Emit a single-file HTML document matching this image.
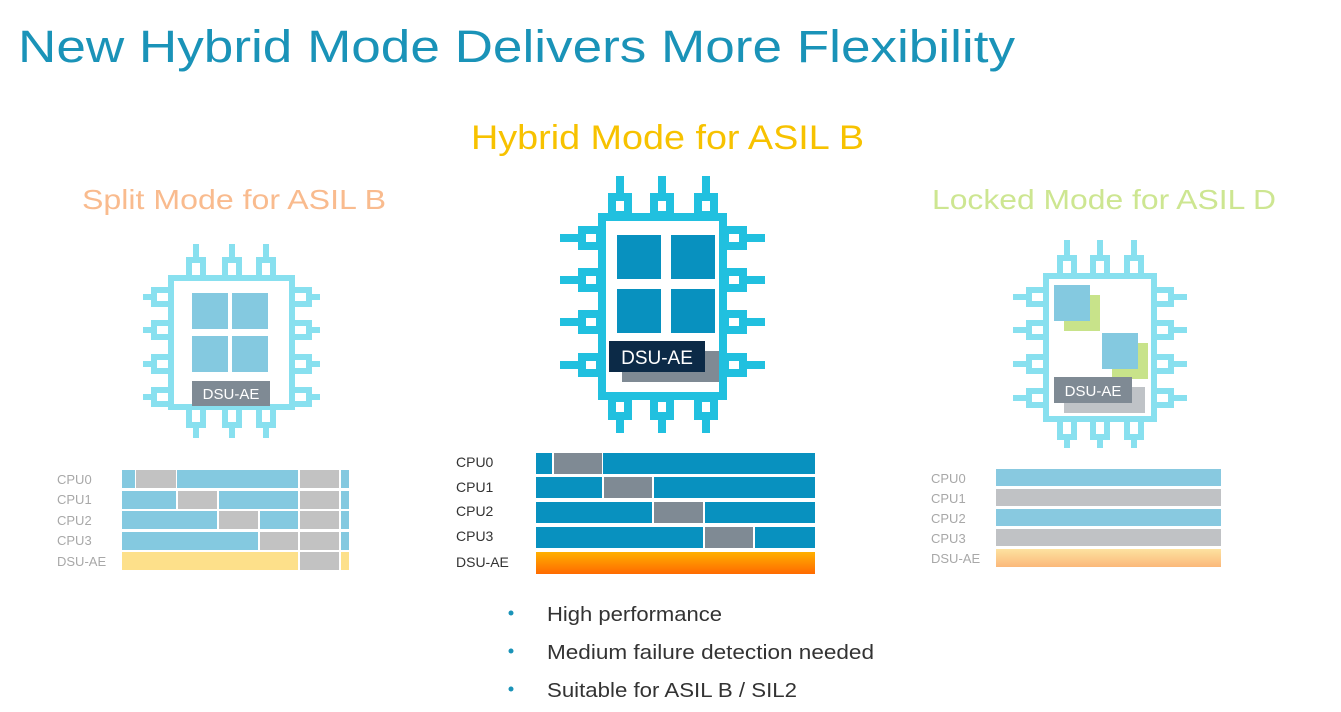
<!DOCTYPE html>
<html><head><meta charset="utf-8"><style>
html,body{margin:0;padding:0;background:#fff;}
svg{display:block;font-family:"Liberation Sans",sans-serif;}
</style></head><body>
<svg width="1341" height="712" viewBox="0 0 1341 712" xmlns="http://www.w3.org/2000/svg">
<defs>
<linearGradient id="og" x1="0" y1="0" x2="0" y2="1"><stop offset="0" stop-color="#ffb000"/><stop offset="1" stop-color="#ff6a00"/></linearGradient>
<linearGradient id="lg" x1="0" y1="0" x2="0" y2="1"><stop offset="0" stop-color="#fde2a0"/><stop offset="1" stop-color="#fbb87a"/></linearGradient>
</defs>
<text x="18" y="62" font-size="45" fill="#1a93b8" textLength="997" lengthAdjust="spacingAndGlyphs">New Hybrid Mode Delivers More Flexibility</text>
<text x="471" y="149" font-size="34" fill="#f7c200" textLength="393" lengthAdjust="spacingAndGlyphs">Hybrid Mode for ASIL B</text>
<text x="82" y="209" font-size="28" fill="#f9bb8e" textLength="304" lengthAdjust="spacingAndGlyphs">Split Mode for ASIL B</text>
<text x="932" y="209" font-size="28" fill="#cde691" textLength="344" lengthAdjust="spacingAndGlyphs">Locked Mode for ASIL D</text>

<!-- center chip -->
<g fill="none" stroke="#21c0df" stroke-width="8">
<rect x="602" y="217" width="121" height="179" fill="#fff"/>
<path d="M620 176V197M662 176V197M706 176V197"/>
<rect x="612" y="197" width="16" height="18"/><rect x="654" y="197" width="16" height="18"/><rect x="698" y="197" width="16" height="18"/>
<path d="M620 416V433M662 416V433M706 416V433"/>
<rect x="612" y="398" width="16" height="18"/><rect x="654" y="398" width="16" height="18"/><rect x="698" y="398" width="16" height="18"/>
<path d="M560 238H582M560 280H582M560 322H582M560 365H582"/>
<rect x="582" y="230" width="18" height="16"/><rect x="582" y="272" width="18" height="16"/><rect x="582" y="314" width="18" height="16"/><rect x="582" y="357" width="18" height="16"/>
<path d="M743 238H765M743 280H765M743 322H765M743 365H765"/>
<rect x="725" y="230" width="18" height="16"/><rect x="725" y="272" width="18" height="16"/><rect x="725" y="314" width="18" height="16"/><rect x="725" y="357" width="18" height="16"/>
</g>
<g fill="#0891bf"><rect x="617" y="235" width="44" height="44"/><rect x="671" y="235" width="44" height="44"/><rect x="617" y="289" width="44" height="44"/><rect x="671" y="289" width="44" height="44"/></g>
<rect x="622" y="351" width="97" height="31" fill="#7f8a94"/>
<rect x="609" y="341" width="96" height="31" fill="#0c2a47"/>
<text x="657" y="364" font-size="19" fill="#fff" text-anchor="middle">DSU-AE</text>

<!-- left chip -->
<g fill="none" stroke="#88e0ef" stroke-width="6">
<rect x="171" y="278" width="121" height="129" fill="#fff"/>
<path d="M196 244V258M232 244V258M266 244V258M196 425V438M232 425V438M266 425V438"/>
<rect x="189" y="260" width="14" height="18"/><rect x="225" y="260" width="14" height="18"/><rect x="259" y="260" width="14" height="18"/>
<rect x="189" y="407" width="14" height="18"/><rect x="225" y="407" width="14" height="18"/><rect x="259" y="407" width="14" height="18"/>
<path d="M143 297H154M143 330H154M143 364H154M143 397H154M309 297H320M309 330H320M309 364H320M309 397H320"/>
<rect x="154" y="290" width="17" height="14"/><rect x="154" y="323" width="17" height="14"/><rect x="154" y="357" width="17" height="14"/><rect x="154" y="390" width="17" height="14"/>
<rect x="292" y="290" width="17" height="14"/><rect x="292" y="323" width="17" height="14"/><rect x="292" y="357" width="17" height="14"/><rect x="292" y="390" width="17" height="14"/>
</g>
<g fill="#84c9e0"><rect x="192" y="293" width="36" height="36"/><rect x="232" y="293" width="36" height="36"/><rect x="192" y="336" width="36" height="36"/><rect x="232" y="336" width="36" height="36"/></g>
<rect x="192" y="381" width="78" height="25" fill="#7f8a94"/>
<text x="231" y="399" font-size="15" fill="#fff" text-anchor="middle">DSU-AE</text>

<!-- right chip -->
<g fill="none" stroke="#88e0ef" stroke-width="6">
<rect x="1046" y="276" width="108" height="143" fill="#fff"/>
<path d="M1067 240V256M1100 240V256M1134 240V256M1067 436V448M1100 436V448M1134 436V448"/>
<rect x="1060" y="258" width="14" height="18"/><rect x="1093" y="258" width="14" height="18"/><rect x="1127" y="258" width="14" height="18"/>
<rect x="1060" y="419" width="14" height="18"/><rect x="1093" y="419" width="14" height="18"/><rect x="1127" y="419" width="14" height="18"/>
<path d="M1013 297H1027M1013 330H1027M1013 364H1027M1013 398H1027M1173 297H1187M1173 330H1187M1173 364H1187M1173 398H1187"/>
<rect x="1029" y="290" width="17" height="14"/><rect x="1029" y="323" width="17" height="14"/><rect x="1029" y="357" width="17" height="14"/><rect x="1029" y="391" width="17" height="14"/>
<rect x="1154" y="290" width="17" height="14"/><rect x="1154" y="323" width="17" height="14"/><rect x="1154" y="357" width="17" height="14"/><rect x="1154" y="391" width="17" height="14"/>
</g>
<rect x="1064" y="295" width="36" height="36" fill="#c8e38a"/>
<rect x="1054" y="285" width="36" height="36" fill="#84c9e0"/>
<rect x="1112" y="343" width="36" height="36" fill="#c8e38a"/>
<rect x="1102" y="333" width="36" height="36" fill="#84c9e0"/>
<rect x="1064" y="387" width="81" height="26" fill="#bfc3c7"/>
<rect x="1054" y="377" width="78" height="26" fill="#7f8a94"/>
<text x="1093" y="396" font-size="15" fill="#fff" text-anchor="middle">DSU-AE</text>

<!-- left timeline -->
<g font-size="13" fill="#a8a8a8">
<text x="57" y="484">CPU0</text><text x="57" y="504">CPU1</text><text x="57" y="525">CPU2</text><text x="57" y="545">CPU3</text><text x="57" y="566">DSU-AE</text>
</g>
<g fill="#84c9e0">
<rect x="122" y="470" width="13" height="18"/><rect x="177" y="470" width="121" height="18"/><rect x="341" y="470" width="8" height="18"/>
<rect x="122" y="491" width="54" height="18"/><rect x="219" y="491" width="79" height="18"/><rect x="341" y="491" width="8" height="18"/>
<rect x="122" y="511" width="95" height="18"/><rect x="260" y="511" width="38" height="18"/><rect x="341" y="511" width="8" height="18"/>
<rect x="122" y="532" width="136" height="18"/><rect x="341" y="532" width="8" height="18"/>
</g>
<g fill="#c2c2c2">
<rect x="136" y="470" width="40" height="18"/><rect x="300" y="470" width="39" height="18"/>
<rect x="178" y="491" width="39" height="18"/><rect x="300" y="491" width="39" height="18"/>
<rect x="219" y="511" width="39" height="18"/><rect x="300" y="511" width="39" height="18"/>
<rect x="260" y="532" width="38" height="18"/><rect x="300" y="532" width="39" height="18"/>
<rect x="300" y="552" width="39" height="18"/>
</g>
<rect x="122" y="552" width="176" height="18" fill="#fde08a"/><rect x="341" y="552" width="8" height="18" fill="#fde08a"/>

<!-- center timeline -->
<g font-size="14" fill="#333">
<text x="456" y="467">CPU0</text><text x="456" y="492">CPU1</text><text x="456" y="516">CPU2</text><text x="456" y="541">CPU3</text><text x="456" y="567">DSU-AE</text>
</g>
<g fill="#0891bf">
<rect x="536" y="453" width="16" height="21"/><rect x="603" y="453" width="212" height="21"/>
<rect x="536" y="477" width="66" height="21"/><rect x="654" y="477" width="161" height="21"/>
<rect x="536" y="502" width="116" height="21"/><rect x="705" y="502" width="110" height="21"/>
<rect x="536" y="527" width="167" height="21"/><rect x="755" y="527" width="60" height="21"/>
</g>
<g fill="#7f8a94">
<rect x="554" y="453" width="48" height="21"/><rect x="604" y="477" width="48" height="21"/><rect x="654" y="502" width="49" height="21"/><rect x="705" y="527" width="48" height="21"/>
</g>
<rect x="536" y="552" width="279" height="22" fill="url(#og)"/>

<!-- right timeline -->
<g font-size="13" fill="#a8a8a8">
<text x="931" y="483">CPU0</text><text x="931" y="503">CPU1</text><text x="931" y="523">CPU2</text><text x="931" y="543">CPU3</text><text x="931" y="563">DSU-AE</text>
</g>
<rect x="996" y="469" width="225" height="17" fill="#88c9e0"/>
<rect x="996" y="489" width="225" height="17" fill="#c0c2c5"/>
<rect x="996" y="509" width="225" height="17" fill="#88c9e0"/>
<rect x="996" y="529" width="225" height="17" fill="#c0c2c5"/>
<rect x="996" y="549" width="225" height="18" fill="url(#lg)"/>

<!-- bullets -->
<g fill="#1a93b8"><circle cx="511" cy="613" r="2.5"/><circle cx="511" cy="651" r="2.5"/><circle cx="511" cy="689" r="2.5"/></g>
<g font-size="20" fill="#333">
<text x="547" y="621" textLength="175" lengthAdjust="spacingAndGlyphs">High performance</text>
<text x="547" y="659" textLength="327" lengthAdjust="spacingAndGlyphs">Medium failure detection needed</text>
<text x="547" y="697" textLength="250" lengthAdjust="spacingAndGlyphs">Suitable for ASIL B / SIL2</text>
</g>
</svg>
</body></html>
